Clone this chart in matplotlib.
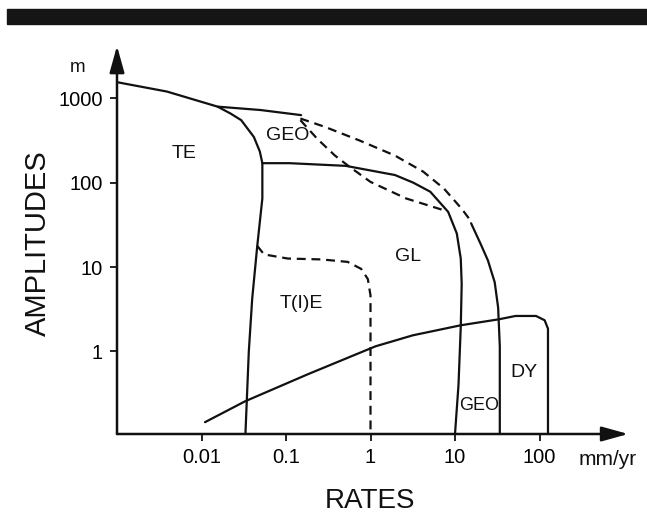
import matplotlib.pyplot as plt
from matplotlib.patches import Rectangle

# rates in mm/yr, amplitudes in m
te_rate = [0.001, 0.0039, 0.0155, 0.022, 0.0295, 0.0417, 0.049, 0.0525, 0.0525, 0.0457, 0.0398, 0.0363, 0.0331]
te_amp = [1550, 1200, 795, 660, 550, 347, 234, 170, 65, 17.8, 4.2, 1.0, 0.105]

geo_rate = [0.0155, 0.050, 0.151]
geo_amp = [795, 725, 631]

gl_rate = [0.0525, 0.11, 0.51, 1.95, 3.2, 5.1, 8.3, 10.5, 11.7, 12.0, 11.7, 11.0, 10.0]
gl_amp = [170, 170, 158, 123, 100, 78, 45, 25, 12.6, 6.3, 1.95, 0.40, 0.105]

outer_rate = [15.5, 20, 24.5, 29.5, 32.4, 33.9, 33.9]
outer_amp = [33, 19, 12, 6.6, 3.3, 1.15, 0.105]

dash_outer_rate = [0.148, 0.29, 0.74, 1.95, 4.2, 7.4, 12.0, 14.8]
dash_outer_amp = [575, 457, 316, 209, 135, 85, 49, 37]

dash_inner_rate = [0.148, 0.234, 0.38, 0.56, 1.0, 2.63, 7.4]
dash_inner_amp = [550, 331, 209, 155, 102, 65, 47]

tie_rate = [0.0457, 0.055, 0.105, 0.263, 0.537, 0.776, 0.93, 1.0, 1.0]
tie_amp = [17.8, 14.1, 12.6, 12.3, 11.5, 9.5, 7.2, 4.6, 0.105]

dy_rate = [0.011, 0.033, 0.182, 1.15, 3.16, 11.7, 33, 52, 91, 115, 126, 126]
dy_amp = [0.145, 0.257, 0.537, 1.15, 1.55, 2.04, 2.4, 2.63, 2.63, 2.34, 1.86, 0.105]

labels = ["TE", "GEO", "GL", "T(I)E", "GEO", "DY"]
label_rate = [0.0062, 0.105, 2.75, 0.15, 19.5, 66]
label_amp = [224, 363, 13.5, 3.7, 0.23, 0.56]
label_size = [14, 14, 14, 14, 13, 14]

x_ticks = [0.01, 0.1, 1, 10, 100]
x_ticklabels = ["0.01", "0.1", "1", "10", "100"]
y_ticks = [1, 10, 100, 1000]
y_ticklabels = ["1", "10", "100", "1000"]

plt.rcParams["font.family"] = ["Liberation Sans", "DejaVu Sans"]

W, H = 647, 517
fig = plt.figure(figsize=(W / 100, H / 100), dpi=100)

# black bar across the top of the page
fig.patches.append(Rectangle((7 / W, 1 - 24 / H), 1, 15 / H, transform=fig.transFigure,
                             color="#151515", zorder=0))

ax = fig.add_axes([117 / W, 83 / H, 6.05 * 84.5 / W, 4.62 * 84 / H])
ax.set_xscale("log")
ax.set_yscale("log")
ax.set_xlim(0.001, 10 ** 3.05)
ax.set_ylim(0.105, 10 ** 3.62)
for s in ax.spines.values():
    s.set_visible(False)

ax.set_xticks(x_ticks, x_ticklabels)
ax.set_yticks(y_ticks, y_ticklabels)
ax.minorticks_off()
ax.tick_params(axis="both", direction="out", length=5, width=1.3, labelsize=14.5, color="#111")
ax.tick_params(axis="x", pad=5)
ax.tick_params(axis="y", pad=5)
ax.tick_params(top=False, right=False)

# axes drawn as arrows
arrow = dict(arrowstyle="-|>,head_length=0.9,head_width=0.25", lw=1.8, color="#111",
             shrinkA=0, shrinkB=0, mutation_scale=18)
ax.annotate("", xy=(1, 0), xytext=(0, 0), xycoords="axes fraction", arrowprops=arrow)
ax.annotate("", xy=(0, 1), xytext=(0, 0), xycoords="axes fraction", arrowprops=arrow)

solid = dict(color="#111", lw=1.6, solid_capstyle="round")
dashed = dict(color="#111", lw=1.6, linestyle=(0, (4, 2.6)))

ax.plot(te_rate, te_amp, **solid)
ax.plot(geo_rate, geo_amp, **solid)
ax.plot(gl_rate, gl_amp, **solid)
ax.plot(outer_rate, outer_amp, **solid)
ax.plot(dy_rate, dy_amp, **solid)
ax.plot(dash_outer_rate, dash_outer_amp, **dashed)
ax.plot(dash_inner_rate, dash_inner_amp, **dashed)
ax.plot(tie_rate, tie_amp, **dashed)

for text, xr, ya, fs in zip(labels, label_rate, label_amp, label_size):
    ax.text(xr, ya, text, fontsize=fs, ha="center", va="center", color="#111")

ax.text(10 ** 2.46, -0.065, "mm/yr", transform=ax.get_xaxis_transform(),
        fontsize=15, ha="left", va="center", color="#111")
fig.text(78 / W, 1 - 68 / H, "m", fontsize=13.5, ha="center", va="center", color="#111")
fig.text(38 / W, 1 - 243 / H, "AMPLITUDES", fontsize=21, rotation=90,
         ha="center", va="center", color="#111")
fig.text(370 / W, 1 - 501 / H, "RATES", fontsize=20, ha="center", va="center", color="#111")

fig.savefig("out.png", dpi=100)
